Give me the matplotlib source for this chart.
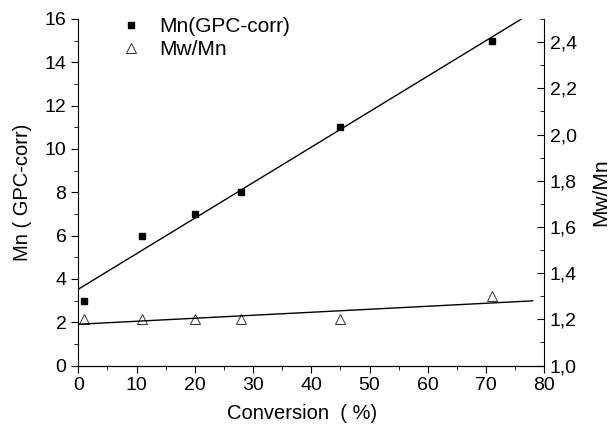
import numpy as np
import matplotlib
matplotlib.use("Agg")
import matplotlib.pyplot as plt
from matplotlib.ticker import MultipleLocator, FuncFormatter

plt.rcParams['font.family'] = ['Liberation Sans', 'DejaVu Sans']

conversion = [1, 11, 20, 28, 45, 71]
mn_gpc = [3, 6, 7, 8, 11, 15]
pdi = [1.2, 1.2, 1.2, 1.2, 1.2, 1.3]

# right axis range mapped onto the left one
RMIN, RMAX = 1.0, 2.5
LMIN, LMAX = 0, 16


def to_left(v):
    return LMIN + (np.asarray(v) - RMIN) / (RMAX - RMIN) * (LMAX - LMIN)


def main():
    fig = plt.figure(figsize=(6.14, 4.26), dpi=100)
    ax = fig.add_axes([0.1275, 0.142, 0.759, 0.8134])

    x = np.array(conversion, dtype=float)
    xf = np.linspace(0, 78, 100)

    p1 = np.polyfit(x, mn_gpc, 1)
    p2 = np.polyfit(x, pdi, 1)

    ax.plot(x, mn_gpc, 's', color='black', markersize=5, label='Mn(GPC-corr)')
    ax.plot(x, to_left(pdi), '^', color='#333333', markerfacecolor='white',
            markeredgewidth=0.7, markersize=7, label='Mw/Mn')
    ax.plot(xf, np.polyval(p1, xf), color='black', lw=1.0)
    ax.plot(xf, to_left(np.polyval(p2, xf)), color='black', lw=1.0)

    ax.set_xlim(0, 80)
    ax.set_ylim(LMIN, LMAX)
    ax.xaxis.set_major_locator(MultipleLocator(10))
    ax.xaxis.set_minor_locator(MultipleLocator(5))
    ax.yaxis.set_major_locator(MultipleLocator(2))
    ax.yaxis.set_minor_locator(MultipleLocator(1))
    ax.spines['top'].set_visible(False)
    ax.spines['right'].set_visible(False)
    ax.tick_params(which='major', direction='out', length=5, labelsize=14)
    ax.tick_params(which='minor', direction='out', length=3)

    ax.set_xlabel('Conversion  ( %)', fontsize=14.5)
    ax.xaxis.set_label_coords(0.48, -0.11)
    ax.set_ylabel('Mn ( GPC-corr)', fontsize=14.5, labelpad=9)

    ax2 = ax.twinx()
    ax2.set_ylim(RMIN, RMAX)
    ax2.yaxis.set_major_locator(MultipleLocator(0.2))
    ax2.yaxis.set_minor_locator(MultipleLocator(0.1))
    ax2.yaxis.set_major_formatter(FuncFormatter(lambda v, p: ('%.1f' % v).replace('.', ',')))
    ax2.spines['top'].set_visible(False)
    ax2.spines['left'].set_visible(False)
    ax2.tick_params(which='major', direction='in', length=5, labelsize=14, pad=4)
    ax2.tick_params(which='minor', direction='in', length=3)
    ax2.set_ylabel('Mw/Mn', fontsize=15, labelpad=10)

    ax.legend(loc='upper left', bbox_to_anchor=(0.04, 1.06), frameon=False,
              fontsize=15, handletextpad=0.6, labelspacing=0.2, handlelength=1.5)

    fig.savefig('out.png', dpi=100)


if __name__ == "__main__":
    main()
